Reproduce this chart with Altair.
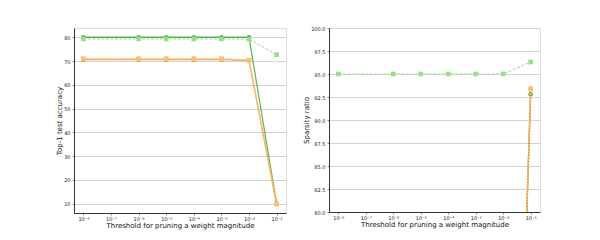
import altair as alt
import pandas as pd

thresholds = [1e-8, 1e-6, 1e-5, 1e-4, 1e-3, 1e-2, 1e-1]
tick_values = [1e-8, 1e-7, 1e-6, 1e-5, 1e-4, 1e-3, 1e-2, 1e-1]

acc_green_solid = [80.0, 80.0, 80.0, 80.0, 80.0, 80.0, 10.0]
acc_green_dashed = [79.3, 79.3, 79.3, 79.3, 79.3, 79.2, 72.7]
acc_orange_solid = [70.6, 70.6, 70.6, 70.6, 70.6, 70.2, 9.8]
acc_orange_dashed = [71.0, 71.0, 71.0, 71.0, 71.0, 70.4, 9.9]

sp_green_solid = [0.0, 0.0, 0.0, 0.0, 0.0, 0.5, 92.8]
sp_green_dashed = [95.0, 95.0, 95.0, 95.0, 95.0, 95.0, 96.3]
sp_orange_solid = [0.0, 0.0, 0.0, 0.0, 0.0, 0.5, 93.4]
sp_orange_dashed = [0.0, 0.0, 0.0, 0.0, 0.0, 0.5, 93.4]

series_names = ["green_solid", "green_dashed", "orange_solid", "orange_dashed"]
styles = {
    "green_solid": dict(color="#2ca02c", dash=[1, 0], width=1.3, shape="circle", op=0.75),
    "green_dashed": dict(color="#98df8a", dash=[3, 1.5], width=1.0, shape="square", op=1.0),
    "orange_solid": dict(color="#ff7f0e", dash=[1, 0], width=1.3, shape="circle", op=0.75),
    "orange_dashed": dict(color="#ffbb78", dash=[2, 1], width=1.6, shape="square", op=1.0),
}

def frame(vals):
    rows = []
    for name, v in zip(series_names, vals):
        for t, y in zip(thresholds, v):
            rows.append({"t": t, "v": y, "s": name})
    return pd.DataFrame(rows)

acc_df = frame([acc_green_solid, acc_green_dashed, acc_orange_solid, acc_orange_dashed])
sp_df = frame([sp_green_solid, sp_green_dashed, sp_orange_solid, sp_orange_dashed])

FONT = "DejaVu Sans"
label_expr = "'10' + ['⁻⁰','⁻¹','⁻²','⁻³','⁻⁴','⁻⁵','⁻⁶','⁻⁷','⁻⁸'][round(-log(datum.value)/LN10)]"

xaxis = alt.Axis(values=tick_values, labelExpr=label_expr, grid=False,
                 title="Threshold for pruning a weight magnitude",
                 labelFontSize=5, titleFontSize=7, titleFont=FONT, labelFont=FONT,
                 tickSize=2, labelPadding=1, titlePadding=0, domainColor="#333",
                 titleFontWeight="normal", labelColor="#222", titleColor="#111")

def panel(df, ydomain, yvalues, yfmt, ytitle, w, h):
    xsc = alt.Scale(type="log", domain=[10 ** -8.34, 10 ** -0.66])
    ysc = alt.Scale(domain=ydomain, nice=False, zero=False)
    yaxis = alt.Axis(values=yvalues, format=yfmt, title=ytitle, grid=True,
                     gridColor="#d4d4d4", gridWidth=1,
                     labelFontSize=5, titleFontSize=7, titleFont=FONT, labelFont=FONT,
                     tickSize=2, labelPadding=2, titlePadding=1, domainColor="#333",
                     titleFontWeight="normal", labelColor="#222", titleColor="#111")
    layers = []
    for name in series_names:
        st = styles[name]
        d = df[df.s == name]
        base = alt.Chart(d).encode(
            x=alt.X("t:Q", scale=xsc, axis=xaxis),
            y=alt.Y("v:Q", scale=ysc, axis=yaxis),
        )
        layers.append(base.mark_line(color=st["color"], strokeDash=st["dash"],
                                     strokeWidth=st["width"], opacity=st["op"], clip=True))
        layers.append(base.mark_point(color=st["color"], shape=st["shape"], filled=True,
                                      size=22, opacity=st["op"], clip=True))
    return alt.layer(*layers).properties(width=w, height=h)

left = panel(acc_df, [6.1, 83.9], [10, 20, 30, 40, 50, 60, 70, 80], "d",
             "Top-1 test accuracy", 212, 185)
right = panel(sp_df, [80, 100], [80, 82.5, 85, 87.5, 90, 92.5, 95, 97.5, 100], ".1f",
              "Sparsity ratio", 211, 184)

chart = alt.hconcat(left, right, spacing=15).properties(
    padding={"left": 47, "top": 17, "right": 5, "bottom": 5}
).configure_view(stroke="#999", strokeWidth=1).configure(background="white")

chart.save("out.html", embed_options={"renderer": "svg", "actions": False})
